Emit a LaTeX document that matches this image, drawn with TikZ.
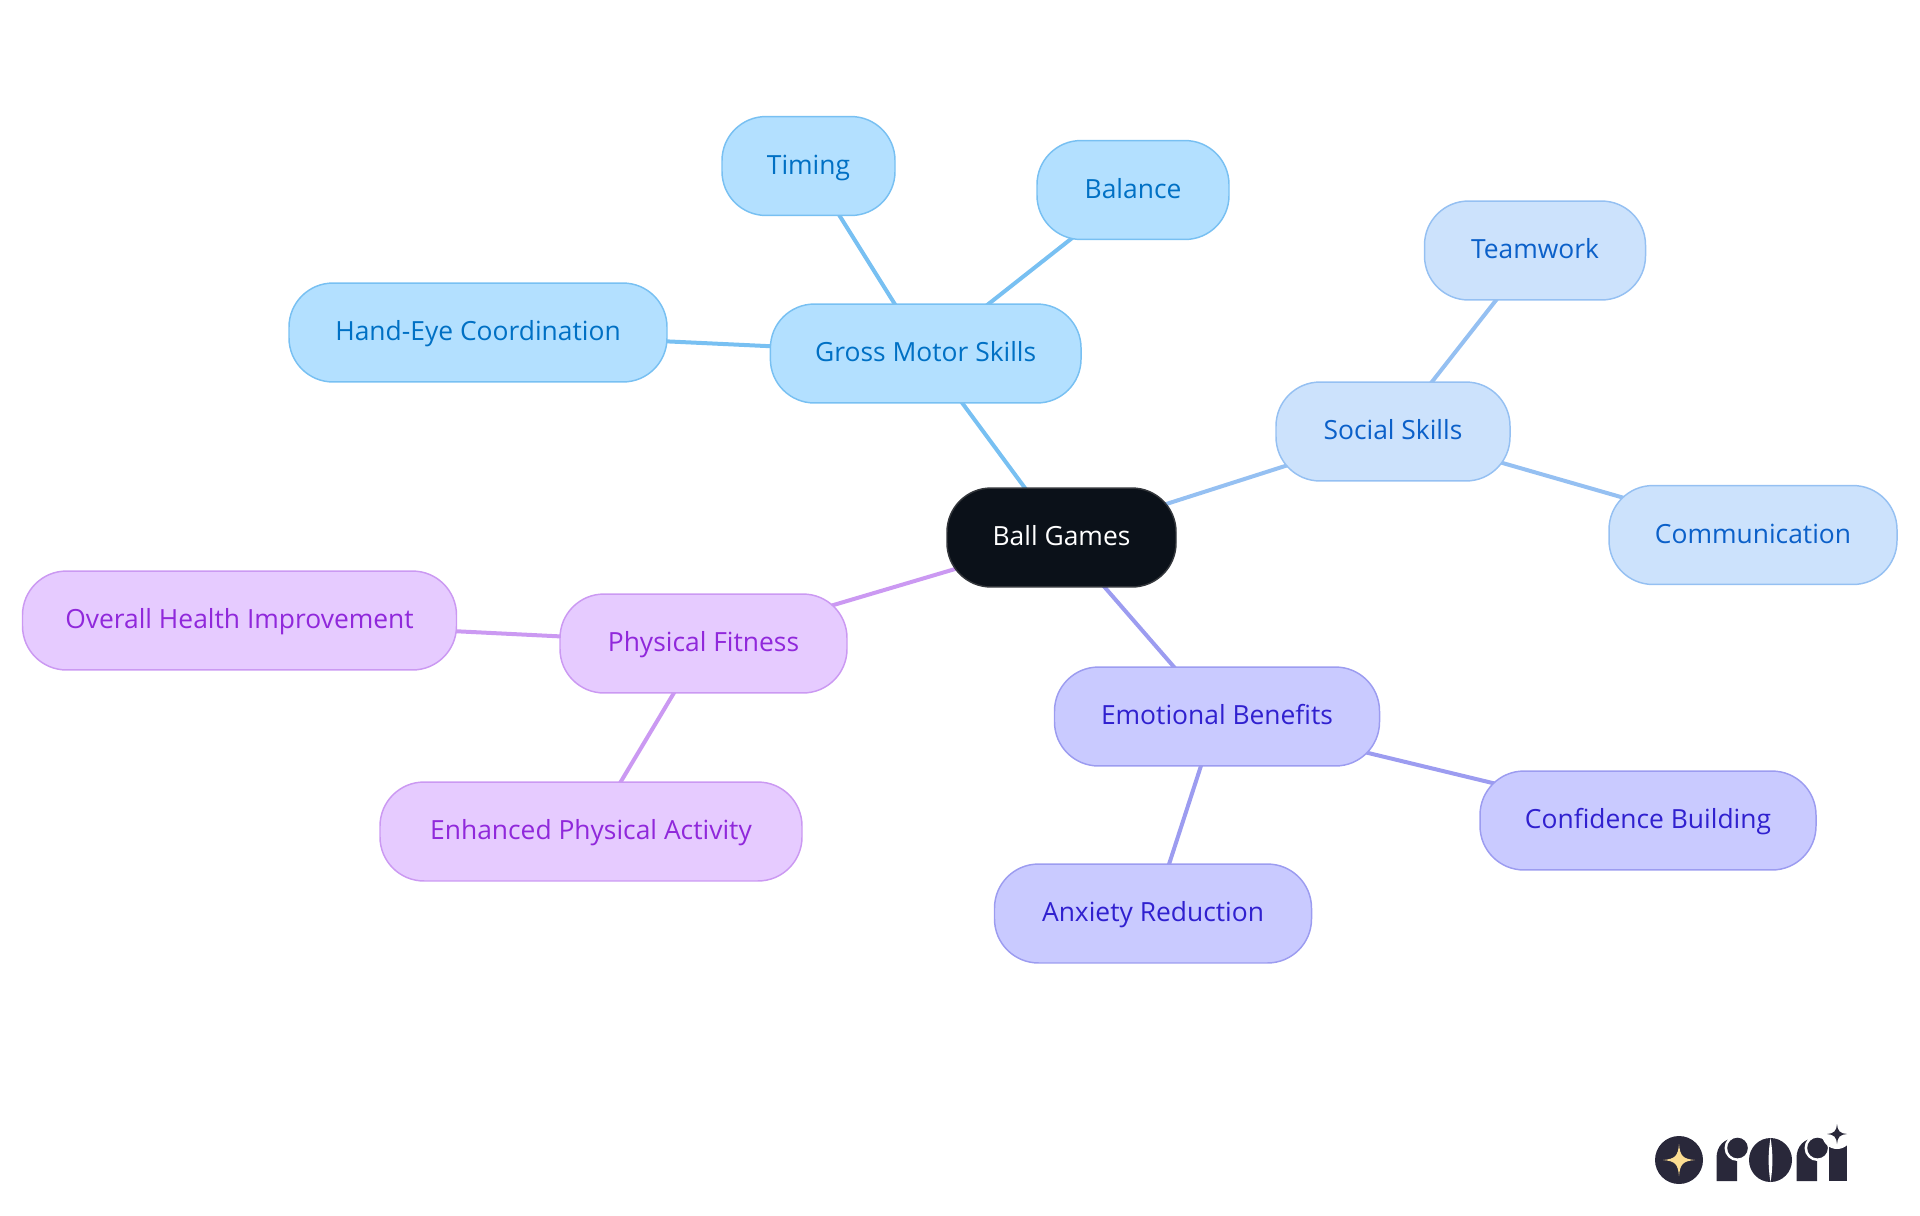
\documentclass[tikz,border=0pt]{standalone}
\usepackage{fontspec}
\setmainfont{Open Sans}
\usetikzlibrary{backgrounds}
\definecolor{rootfill}{HTML}{0B1119}
\definecolor{rootline}{HTML}{33363B}
\definecolor{motorfill}{HTML}{B3E0FF}
\definecolor{motorline}{HTML}{78C0F2}
\definecolor{motortext}{HTML}{0070C4}
\definecolor{socialfill}{HTML}{CCE2FC}
\definecolor{socialline}{HTML}{95C0F2}
\definecolor{socialtext}{HTML}{0B60C9}
\definecolor{emofill}{HTML}{C9CAFF}
\definecolor{emoline}{HTML}{9C9CF0}
\definecolor{emotext}{HTML}{3020CF}
\definecolor{fitfill}{HTML}{E6CBFF}
\definecolor{fitline}{HTML}{CB99F2}
\definecolor{fittext}{HTML}{9028DB}
\definecolor{logodark}{HTML}{29283A}
\definecolor{logostar}{HTML}{FBDD92}
\begin{document}
\begin{tikzpicture}[
    x=0.75pt, y=-0.75pt,
    pill/.style={rectangle, draw, line width=1.1pt, rounded corners=33pt, minimum height=74.2pt, inner sep=0pt, text height=16pt, text depth=4pt, font=\fontsize{19.8}{24}\selectfont},
    root/.style={pill, fill=rootfill, draw=rootline, text=white},
    motor/.style={pill, fill=motorfill, draw=motorline, text=motortext},
    social/.style={pill, fill=socialfill, draw=socialline, text=socialtext},
    emo/.style={pill, fill=emofill, draw=emoline, text=emotext},
    fit/.style={pill, fill=fitfill, draw=fitline, text=fittext},
    edge/.style={line width=3pt}
]
    \useasboundingbox (0,0) rectangle (1920,1215);

    % Centre
    \node[root, minimum width=171.75pt] (ball) at (1061.5,537.5) {Ball Games};

    % Gross motor skills
    \node[motor, minimum width=233pt] (gross) at (925.7,353.5) {Gross Motor Skills};
    \node[motor, minimum width=129.75pt] (timing) at (808.5,166) {Timing};
    \node[motor, minimum width=144pt] (balance) at (1133,190) {Balance};
    \node[motor, minimum width=283.5pt] (handeye) at (478,332.5) {Hand-Eye Coordination};

    % Social skills
    \node[social, minimum width=175.5pt] (soc) at (1393,431.5) {Social Skills};
    \node[social, minimum width=165.75pt] (team) at (1535,250.5) {Teamwork};
    \node[social, minimum width=216pt] (comm) at (1753,535) {Communication};

    % Emotional benefits
    \node[emo, minimum width=243.75pt] (emotion) at (1217,716.5) {Emotional Benefits};
    \node[emo, minimum width=252pt] (conf) at (1648,820.5) {Confidence Building};
    \node[emo, minimum width=237.75pt] (anx) at (1153,913.5) {Anxiety Reduction};

    % Physical fitness
    \node[fit, minimum width=215.25pt] (phys) at (703.5,643.5) {Physical Fitness};
    \node[fit, minimum width=325.5pt] (health) at (239.5,620.5) {Overall Health Improvement};
    \node[fit, minimum width=316.5pt] (active) at (591,831.5) {Enhanced Physical Activity};

    % Connectors run under the nodes
    \begin{scope}[on background layer]
        \draw[edge, motorline] (ball.center) -- (gross.center);
        \draw[edge, motorline] (gross.center) -- (timing.center);
        \draw[edge, motorline] (gross.center) -- (balance.center);
        \draw[edge, motorline] (gross.center) -- (handeye.center);
        \draw[edge, socialline] (ball.center) -- (soc.center);
        \draw[edge, socialline] (soc.center) -- (team.center);
        \draw[edge, socialline] (soc.center) -- (comm.center);
        \draw[edge, emoline] (ball.center) -- (emotion.center);
        \draw[edge, emoline] (emotion.center) -- (conf.center);
        \draw[edge, emoline] (emotion.center) -- (anx.center);
        \draw[edge, fitline] (ball.center) -- (phys.center);
        \draw[edge, fitline] (phys.center) -- (health.center);
        \draw[edge, fitline] (phys.center) -- (active.center);
    \end{scope}

    % Logo
    \fill[logodark] (1679,1160) circle (24);
    \fill[logostar] (1663,1160) .. controls (1675,1159) and (1678,1156) .. (1679,1144) .. controls (1680,1156) and (1683,1159) .. (1695,1160) .. controls (1683,1161) and (1680,1164) .. (1679,1176) .. controls (1678,1164) and (1675,1161) .. (1663,1160) -- cycle;
    % first r
    \fill[logodark] (1716.5,1181) -- (1716.5,1158) .. controls (1716.5,1146) and (1724,1138) .. (1737,1138) -- (1737,1181) -- cycle;
    \fill[white] (1737.5,1148) circle (13);
    \fill[logodark] (1737.5,1148) circle (10.3);
    % o with its slit
    \fill[logodark] (1770.5,1160) ellipse (21.5 and 22);
    \fill[white] (1770.5,1138) .. controls (1768,1152) and (1768,1168) .. (1770.5,1182) .. controls (1773,1168) and (1773,1152) .. (1770.5,1138) -- cycle;
    % second r
    \fill[logodark] (1796.5,1181) -- (1796.5,1158) .. controls (1796.5,1146) and (1804,1138) .. (1817,1138) -- (1817,1181) -- cycle;
    \fill[white] (1817.5,1148) circle (13);
    \fill[logodark] (1817.5,1148) circle (10.3);
    % i and its star
    \fill[logodark] (1829,1145) rectangle (1847,1181);
    \fill[white] (1837,1134) circle (15);
    \fill[logodark] (1827,1134) .. controls (1834,1133.5) and (1836.5,1131) .. (1837,1124) .. controls (1837.5,1131) and (1840,1133.5) .. (1847,1134) .. controls (1840,1134.5) and (1837.5,1137) .. (1837,1144) .. controls (1836.5,1137) and (1834,1134.5) .. (1827,1134) -- cycle;
\end{tikzpicture}
\end{document}
